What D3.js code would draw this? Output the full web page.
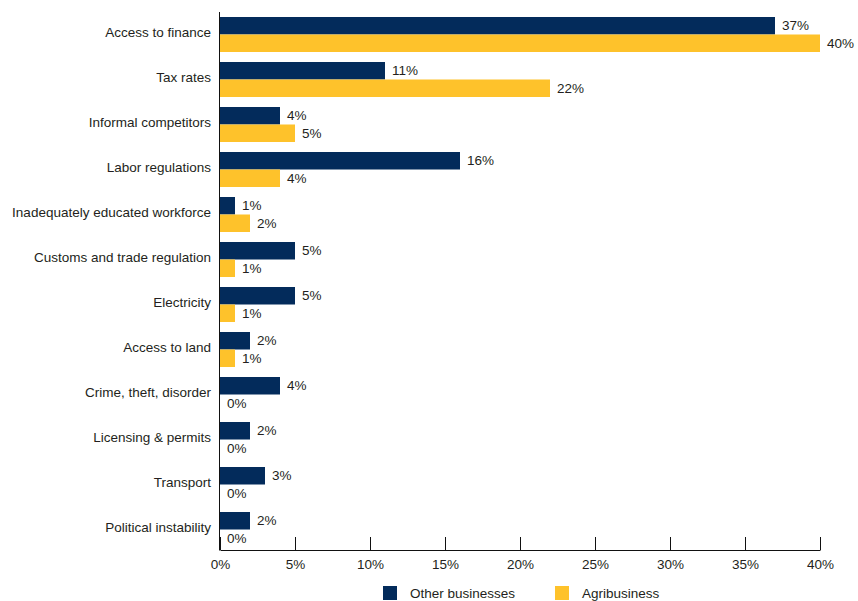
<!DOCTYPE html>
<html>
<head>
<meta charset="utf-8">
<script src="https://cdn.jsdelivr.net/npm/d3@7"></script>
<style>
  html, body { margin: 0; padding: 0; background: #fff; }
  svg { display: block; font-family: "Liberation Sans", Arial, sans-serif; }
</style>
</head>
<body>
<svg id="chart" width="858" height="601"></svg>
<script>
// Obstacles cited by firms, share of respondents (%)
const categories = [
  "Access to finance", "Tax rates", "Informal competitors", "Labor regulations",
  "Inadequately educated workforce", "Customs and trade regulation", "Electricity",
  "Access to land", "Crime, theft, disorder", "Licensing & permits", "Transport",
  "Political instability"
];
const otherBusinesses = [37, 11, 4, 16, 1, 5, 5, 2, 4, 2, 3, 2];
const agribusiness    = [40, 22, 5, 4, 2, 1, 1, 1, 0, 0, 0, 0];
const seriesNames = ["Other businesses", "Agribusiness"];
const seriesColors = ["#032b5b", "#fec22b"];
const xTicks = [0, 5, 10, 15, 20, 25, 30, 35, 40];

const svg = d3.select("#chart");
const textColor = "#231f20";
const fontSize = 13.5;

const x = d3.scaleLinear().domain([0, 40]).range([220, 820]);
const y = d3.scaleBand().domain(categories).range([12, 552])
  .paddingInner(10 / 45).paddingOuter(5 / 45);
const sub = d3.scaleBand().domain(seriesNames).range([0, y.bandwidth()]);

const rows = categories.map((c, i) => ({ c, vals: [otherBusinesses[i], agribusiness[i]] }));

const g = svg.selectAll("g.cat").data(rows).join("g")
  .attr("class", "cat")
  .attr("transform", d => `translate(0,${y(d.c)})`);

g.selectAll("rect").data(d => d.vals.map((v, k) => ({ v, k }))).join("rect")
  .attr("x", x(0))
  .attr("y", d => sub(seriesNames[d.k]))
  .attr("width", d => x(d.v) - x(0))
  .attr("height", sub.bandwidth())
  .attr("fill", d => seriesColors[d.k]);

g.selectAll("text.val").data(d => d.vals.map((v, k) => ({ v, k }))).join("text")
  .attr("class", "val")
  .attr("x", d => x(d.v) + 7)
  .attr("y", d => sub(seriesNames[d.k]) + sub.bandwidth() / 2)
  .attr("dy", "0.35em")
  .attr("font-size", fontSize)
  .attr("fill", textColor)
  .text(d => d.v + "%");

// Category labels
svg.append("g").selectAll("text").data(categories).join("text")
  .attr("x", 211)
  .attr("y", d => y(d) + y.bandwidth() / 2 - 2)
  .attr("dy", "0.35em")
  .attr("text-anchor", "end")
  .attr("font-size", fontSize)
  .attr("fill", textColor)
  .text(d => d);

// Axes
svg.append("line")
  .attr("x1", 219.5).attr("x2", 219.5)
  .attr("y1", 12).attr("y2", 550.5)
  .attr("stroke", "#111").attr("stroke-width", 1);

const xAxis = d3.axisBottom(x).tickValues(xTicks).tickFormat(d => d + "%")
  .tickSizeInner(-13).tickSizeOuter(0).tickPadding(9);
const ax = svg.append("g").attr("transform", "translate(0,550)").call(xAxis);
ax.select(".domain").attr("stroke", "#111");
ax.selectAll(".tick line").attr("stroke", "#111");
ax.selectAll(".tick text").attr("font-size", fontSize).attr("fill", textColor)
  .attr("font-family", "Liberation Sans, Arial, sans-serif");

// Legend
const legendX = [383, 555];
const lg = svg.append("g").selectAll("g").data(seriesNames).join("g")
  .attr("transform", (d, i) => `translate(${legendX[i]},586)`);
lg.append("rect").attr("width", 14).attr("height", 14)
  .attr("fill", (d, i) => seriesColors[i]);
lg.append("text").attr("x", 27).attr("y", 7).attr("dy", "0.35em")
  .attr("font-size", fontSize).attr("fill", textColor).text(d => d);
</script>
</body>
</html>
